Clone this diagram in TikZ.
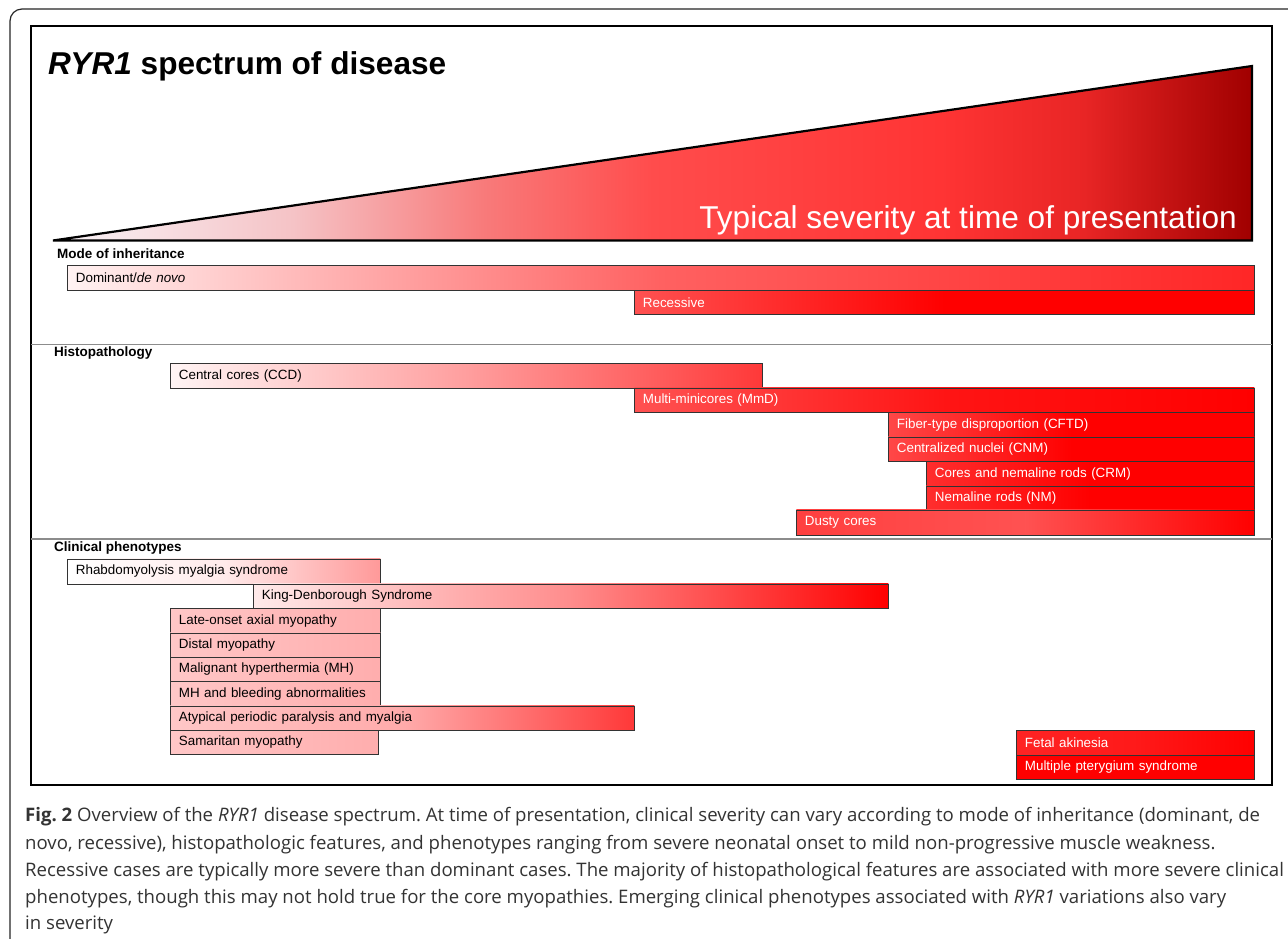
\documentclass[tikz,border=0pt]{standalone}
\usepackage{fontspec}
\setmainfont{Liberation Sans}
\newfontfamily\capfont{Open Sans}
\definecolor{tri0}{HTML}{F8F4F8}
\definecolor{tri1}{HTML}{F5C3C6}
\definecolor{tri2}{HTML}{F87A7A}
\definecolor{tri3}{HTML}{FF4C4C}
\definecolor{tri4}{HTML}{FF3434}
\definecolor{tri5}{HTML}{E82525}
\definecolor{tri6}{HTML}{A00000}
\definecolor{capgray}{HTML}{333333}
\pgfdeclarehorizontalshading{sev}{100bp}{color(0bp)=(tri0); color(25bp)=(tri0); color(35bp)=(tri1); color(43bp)=(tri2); color(50bp)=(tri3); color(62bp)=(tri4); color(68bp)=(tri5); color(75bp)=(tri6); color(100bp)=(tri6)}
\newcommand\sevbar[7]{%
  \pgfmathsetmacro\bw{#4-#2}%
  \pgfmathsetmacro\bh{#5-#3}%
  \pgfmathsetmacro\tw{#4-#2-17}%
  \node[barbox,#6,minimum width=\bw pt,minimum height=\bh pt,text width=\tw pt] (#1) at (#2,#3) {#7};}
\tikzset{
  barbox/.style={anchor=north west, draw=black!80, line width=0.8pt, inner xsep=8.5pt, inner ysep=0pt, align=left, font=\fontsize{13.4}{15}\selectfont},
  darktext/.style={text=black},
  whitetext/.style={text=white},
  seclabel/.style={anchor=base west, inner sep=0pt, font=\fontsize{13.5}{15}\selectfont\bfseries},
  sepline/.style={draw=black!45, line width=1.2pt},
  caption/.style={anchor=base west, inner sep=0pt, text=capgray, font=\capfont\fontsize{18.6}{22}\selectfont\frenchspacing}
}
\begin{document}
\begin{tikzpicture}[x=1pt,y=-1pt]
\useasboundingbox (0,0) rectangle (1288,938);
\clip (0,0) rectangle (1288,938);
\fill[white] (0,0) rectangle (1288,938);
% outer frame
\draw[rounded corners=12pt, line width=1.2pt, black!85] (10,9) rectangle (1310,970);
% inner frame
\draw[line width=2.8pt, black] (31,26) rectangle (1272,785);
% title
\node[anchor=base west, inner sep=0pt, font=\fontsize{31.6}{36}\selectfont\bfseries] (title) at (48,74) {\textit{RYR1} spectrum of disease};
% severity triangle
\coordinate (tl) at (53,240.5);
\coordinate (tr) at (1252,66);
\coordinate (br) at (1252,240.5);
\shade[shading=sev] (tl) -- (tr) -- (br) -- cycle;
\draw[line width=2.2pt, black, line join=miter] (tl) -- (tr) -- (br) -- cycle;
\node[anchor=base east, inner sep=0pt, text=white, font=\fontsize{31.6}{38}\selectfont] (sev) at (1237,228) {Typical severity at time of presentation};
% section: mode of inheritance
\node[seclabel] (moi) at (57,258) {Mode of inheritance};
\sevbar{dom}{67}{265}{1254}{290}{darktext,left color=red!5,right color=red!85,middle color=red!62}{Dominant/\textit{de novo}}
\sevbar{rec}{634}{290}{1254}{314}{whitetext,left color=red!68,right color=red,middle color=red}{Recessive}
\draw[sepline] (31,344.5) -- (1272,344.5);
% section: histopathology
\node[seclabel] (histo) at (54,356) {Histopathology};
\sevbar{ccd}{170}{363}{762}{387.5}{darktext,left color=red!4,right color=red!78,middle color=red!38}{Central cores (CCD)}
\sevbar{mmd}{634}{387.5}{1254}{412}{whitetext,left color=red!68,right color=red,middle color=red!92}{Multi-minicores (MmD)}
\sevbar{cftd}{888}{412}{1254}{436.5}{whitetext,left color=red!72,right color=red,middle color=red}{Fiber-type disproportion (CFTD)}
\sevbar{cnm}{888}{436.5}{1254}{461}{whitetext,left color=red!72,right color=red,middle color=red}{Centralized nuclei (CNM)}
\sevbar{crm}{926}{461}{1254}{485.5}{whitetext,left color=red!82,right color=red,middle color=red}{Cores and nemaline rods (CRM)}
\sevbar{nm}{926}{485.5}{1254}{509.5}{whitetext,left color=red!82,right color=red,middle color=red}{Nemaline rods (NM)}
\sevbar{dusty}{796}{509.5}{1254}{535}{whitetext,left color=red!75,right color=red,middle color=red!68}{Dusty cores}
\draw[sepline] (31,539) -- (1272,539);
% section: clinical phenotypes
\node[seclabel] (clin) at (54,551.5) {Clinical phenotypes};
\sevbar{rms}{67}{558.5}{380}{583.5}{darktext,left color=white,right color=red!40,middle color=red!8}{Rhabdomyolysis myalgia syndrome}
\sevbar{kds}{253}{583.5}{888}{608}{darktext,left color=red!8,right color=red,middle color=red!45}{King-Denborough Syndrome}
\sevbar{loam}{170}{608}{380}{632.5}{darktext,left color=red!22,right color=red!32}{Late-onset axial myopathy}
\sevbar{dm}{170}{632.5}{380}{657}{darktext,left color=red!22,right color=red!32}{Distal myopathy}
\sevbar{mh}{170}{657}{380}{681}{darktext,left color=red!22,right color=red!32}{Malignant hyperthermia (MH)}
\sevbar{mhb}{170}{681}{380}{705.5}{darktext,left color=red!22,right color=red!32}{MH and bleeding abnormalities}
\sevbar{appm}{170}{705.5}{634}{730}{darktext,left color=red!22,right color=red!78,middle color=red!33}{Atypical periodic paralysis and myalgia}
\sevbar{sam}{170}{730}{378}{754}{darktext,left color=red!22,right color=red!32}{Samaritan myopathy}
\sevbar{fa}{1016}{730}{1254}{754.5}{whitetext,left color=red!86,right color=red,middle color=red!90}{Fetal akinesia}
\sevbar{mps}{1016}{754.5}{1254}{779}{whitetext,fill=red}{Multiple pterygium syndrome}
% caption
\node[caption] (cap1) at (25,821.7) {\textbf{Fig. 2} Overview of the \textit{RYR1} disease spectrum. At time of presentation, clinical severity can vary according to mode of inheritance (dominant, de};
\node[caption] (cap2) at (25,849) {novo, recessive), histopathologic features, and phenotypes ranging from severe neonatal onset to mild non-progressive muscle weakness.};
\node[caption] (cap3) at (25,876) {Recessive cases are typically more severe than dominant cases. The majority of histopathological features are associated with more severe clinical};
\node[caption] (cap4) at (25,903.3) {phenotypes, though this may not hold true for the core myopathies. Emerging clinical phenotypes associated with \textit{RYR1} variations also vary};
\node[caption] (cap5) at (25,929.5) {in severity};
\end{tikzpicture}
\end{document}
